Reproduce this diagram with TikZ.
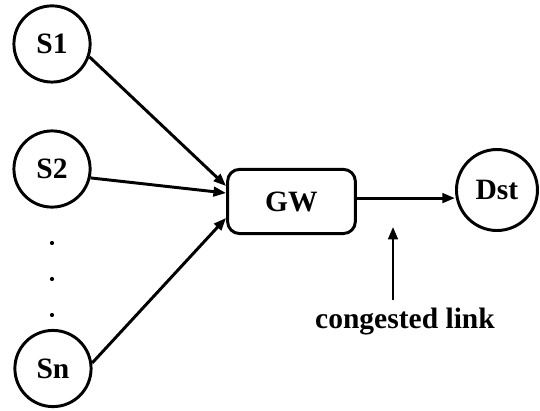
\documentclass[tikz,border=0pt]{standalone}
\usepackage{fontspec}
\setmainfont{Liberation Serif}
\usepackage{tikz}
\usetikzlibrary{arrows.meta}

\tikzset{
	host/.style = {draw, circle, line width = 1.4pt, minimum size = 1.27cm, inner sep = 0pt},
	gateway/.style = {draw, rectangle, rounded corners = 0.2cm, line width = 1.4pt, minimum width = 2.13cm, minimum height = 1.07cm},
	link/.style = {line width = 1.4pt, -{Triangle[length = 6pt, width = 4.5pt]}}
}

\begin{document}
\begin{tikzpicture}[font = \fontsize{14}{17}\selectfont\bfseries]

	\useasboundingbox (0,0) rectangle (9,6.85);

	\node[host] (s1) at (0.867,6.117) {S1};
	\node[host] (s2) at (0.867,4.033) {S2};
	\node[host] (sn) at (0.883,0.708) {Sn};
	\node[gateway] (gw) at (4.858,3.492) {GW};
	\node[host, minimum size = 1.35cm] (dst) at (8.283,3.683) {Dst};

	\foreach \y in {2.8,2.2,1.6}
		\fill (0.867,\y) circle (0.035);

	\draw[link] (s1.-19) -- ([yshift = 7.3pt]gw.west);
	\draw[link] (s2.-13) -- ([yshift = 4pt]gw.west);
	\draw[link] (sn.8) -- ([yshift = -7.8pt]gw.west);
	\draw[link] ([yshift = 1.6pt]gw.east) -- ([yshift = 1.6pt]gw.east -| dst.west);

	\node[anchor = base] (cl) at (6.75,1.383) {congested link};
	\coordinate (tip) at (6.55,3.07);
	\draw[link] (cl.north -| tip) -- (tip);

\end{tikzpicture}
\end{document}
